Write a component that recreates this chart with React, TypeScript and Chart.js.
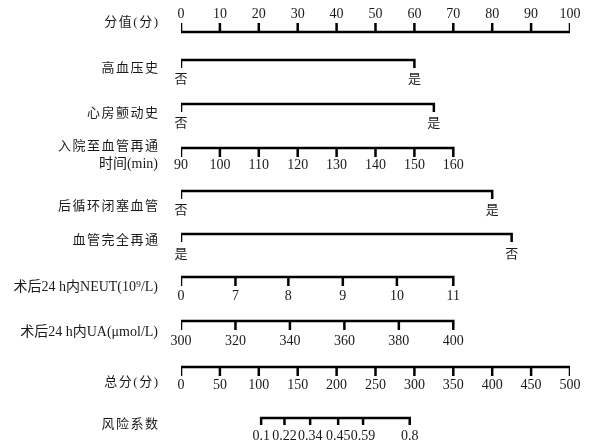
import React, { useEffect, useRef } from "react";
import { Chart, registerables } from "chart.js";
Chart.register(...registerables);

// ---- data ----
const pointTicks = [0, 10, 20, 30, 40, 50, 60, 70, 80, 90, 100];
const htnCats = ["否", "是"];
const htnPoints = [0, 60];
const afCats = ["否", "是"];
const afPoints = [0, 65];
const timeTicks = [90, 100, 110, 120, 130, 140, 150, 160];
const timePoints = [0, 10, 20, 30, 40, 50, 60, 70];
const pcoCats = ["否", "是"];
const pcoPoints = [0, 80];
const recanCats = ["是", "否"];
const recanPoints = [0, 85];
const neutTicks = ["0", "7", "8", "9", "10", "11"];
const neutPoints = [0, 14, 27.6, 41.6, 55.5, 70];
const uaTicks = [300, 320, 340, 360, 380, 400];
const uaPoints = [0, 14, 28, 42, 56, 70];
const totalTicks = [0, 50, 100, 150, 200, 250, 300, 350, 400, 450, 500];
const riskTicks = ["0.1", "0.22", "0.34", "0.45", "0.59", "0.8"];
const riskTotals = [103, 133, 166, 202, 234, 294];

// ---- layout ----
type Title = { text: string; y: number; cjk: boolean };
type Row = {
  title: Title[];
  labels: string[];
  cjkLabels: boolean;
  pos: number[];
  axis: "x" | "x2";
  lineY: number;
  tick: number;
  labelY: number;
};

const rows: Row[] = [
  { title: [{ text: "分值(分)", y: 23, cjk: true }], labels: pointTicks.map(String), cjkLabels: false, pos: pointTicks, axis: "x", lineY: 32, tick: -9, labelY: 14 },
  { title: [{ text: "高血压史", y: 69, cjk: true }], labels: htnCats, cjkLabels: true, pos: htnPoints, axis: "x", lineY: 60, tick: 8, labelY: 80 },
  { title: [{ text: "心房颤动史", y: 114, cjk: true }], labels: afCats, cjkLabels: true, pos: afPoints, axis: "x", lineY: 104, tick: 8, labelY: 124 },
  { title: [{ text: "入院至血管再通", y: 147, cjk: true }, { text: "时间(min)", y: 164, cjk: false }], labels: timeTicks.map(String), cjkLabels: false, pos: timePoints, axis: "x", lineY: 148, tick: 9, labelY: 165 },
  { title: [{ text: "后循环闭塞血管", y: 207, cjk: true }], labels: pcoCats, cjkLabels: true, pos: pcoPoints, axis: "x", lineY: 191, tick: 8, labelY: 211 },
  { title: [{ text: "血管完全再通", y: 241, cjk: true }], labels: recanCats, cjkLabels: true, pos: recanPoints, axis: "x", lineY: 234, tick: 8, labelY: 255 },
  { title: [{ text: "术后24 h内NEUT(10⁹/L)", y: 287, cjk: false }], labels: neutTicks, cjkLabels: false, pos: neutPoints, axis: "x", lineY: 277, tick: 9, labelY: 296 },
  { title: [{ text: "术后24 h内UA(μmol/L)", y: 332, cjk: false }], labels: uaTicks.map(String), cjkLabels: false, pos: uaPoints, axis: "x", lineY: 321, tick: 9, labelY: 341 },
  { title: [{ text: "总分(分)", y: 383, cjk: true }], labels: totalTicks.map(String), cjkLabels: false, pos: totalTicks, axis: "x2", lineY: 367, tick: 9, labelY: 385 },
  { title: [{ text: "风险系数", y: 425, cjk: true }], labels: riskTicks, cjkLabels: false, pos: riskTotals, axis: "x2", lineY: 418, tick: 7, labelY: 436 },
];

const FONT = '"Liberation Serif", "Noto Sans CJK SC", serif';

function buildData(r: Row) {
  const first = r.pos[0];
  const last = r.pos[r.pos.length - 1];
  const d: { x: number; y: number }[] = [
    { x: first, y: r.lineY + r.tick },
    { x: first, y: r.lineY },
    { x: last, y: r.lineY },
    { x: last, y: r.lineY + r.tick },
  ];
  for (let i = 1; i < r.pos.length - 1; i++) {
    d.push({ x: NaN, y: NaN });
    d.push({ x: r.pos[i], y: r.lineY });
    d.push({ x: r.pos[i], y: r.lineY + r.tick });
  }
  return d;
}

const textPlugin = {
  id: "nomoText",
  afterDatasetsDraw(chart: any) {
    const ctx = chart.ctx as CanvasRenderingContext2D;
    const ys = chart.scales.y;
    ctx.save();
    ctx.fillStyle = "#1a1a1a";
    ctx.textBaseline = "middle";
    rows.forEach((r) => {
      const xs = chart.scales[r.axis];
      // tick labels
      ctx.font = r.cjkLabels ? `13px ${FONT}` : `14px ${FONT}`;
      ctx.textAlign = "center";
      (ctx as any).letterSpacing = "0px";
      r.labels.forEach((lab, i) => {
        ctx.fillText(lab, xs.getPixelForValue(r.pos[i]), ys.getPixelForValue(r.labelY));
      });
      // row title
      ctx.textAlign = "right";
      r.title.forEach((t) => {
        const sp = t.cjk ? 1.5 : 0;
        ctx.font = t.cjk ? `13px ${FONT}` : `14px ${FONT}`;
        (ctx as any).letterSpacing = `${sp}px`;
        ctx.fillText(t.text, 158 + sp, ys.getPixelForValue(t.y));
      });
    });
    ctx.restore();
  },
};

export default function App() {
  const ref = useRef<HTMLCanvasElement | null>(null);
  useEffect(() => {
    document.body.style.margin = "0";
    const canvas = ref.current;
    if (!canvas) return;
    const chart = new Chart(canvas, {
      type: "scatter",
      data: {
        datasets: rows.map((r) => ({
          data: buildData(r),
          xAxisID: r.axis,
          yAxisID: "y",
          showLine: true,
          spanGaps: false,
          borderColor: "#000",
          borderWidth: 2.5,
          borderJoinStyle: "miter" as const,
          borderCapStyle: "butt" as const,
          pointRadius: 0,
          pointHoverRadius: 0,
          tension: 0,
        })),
      },
      options: {
        animation: false,
        responsive: false,
        events: [],
        layout: { padding: { left: 181, right: 24, top: 0, bottom: 0 } },
        scales: {
          x: { type: "linear", min: 0, max: 100, display: false },
          x2: { type: "linear", axis: "x", min: 0, max: 500, display: false },
          y: { type: "linear", min: 0, max: 442, reverse: true, display: false },
        },
        plugins: { legend: { display: false }, tooltip: { enabled: false } },
      },
      plugins: [textPlugin],
    });
    return () => chart.destroy();
  }, []);
  return (
    <div style={{ width: 594, height: 442, background: "#fff" }}>
      <canvas ref={ref} width={594} height={442} style={{ display: "block" }} />
    </div>
  );
}
